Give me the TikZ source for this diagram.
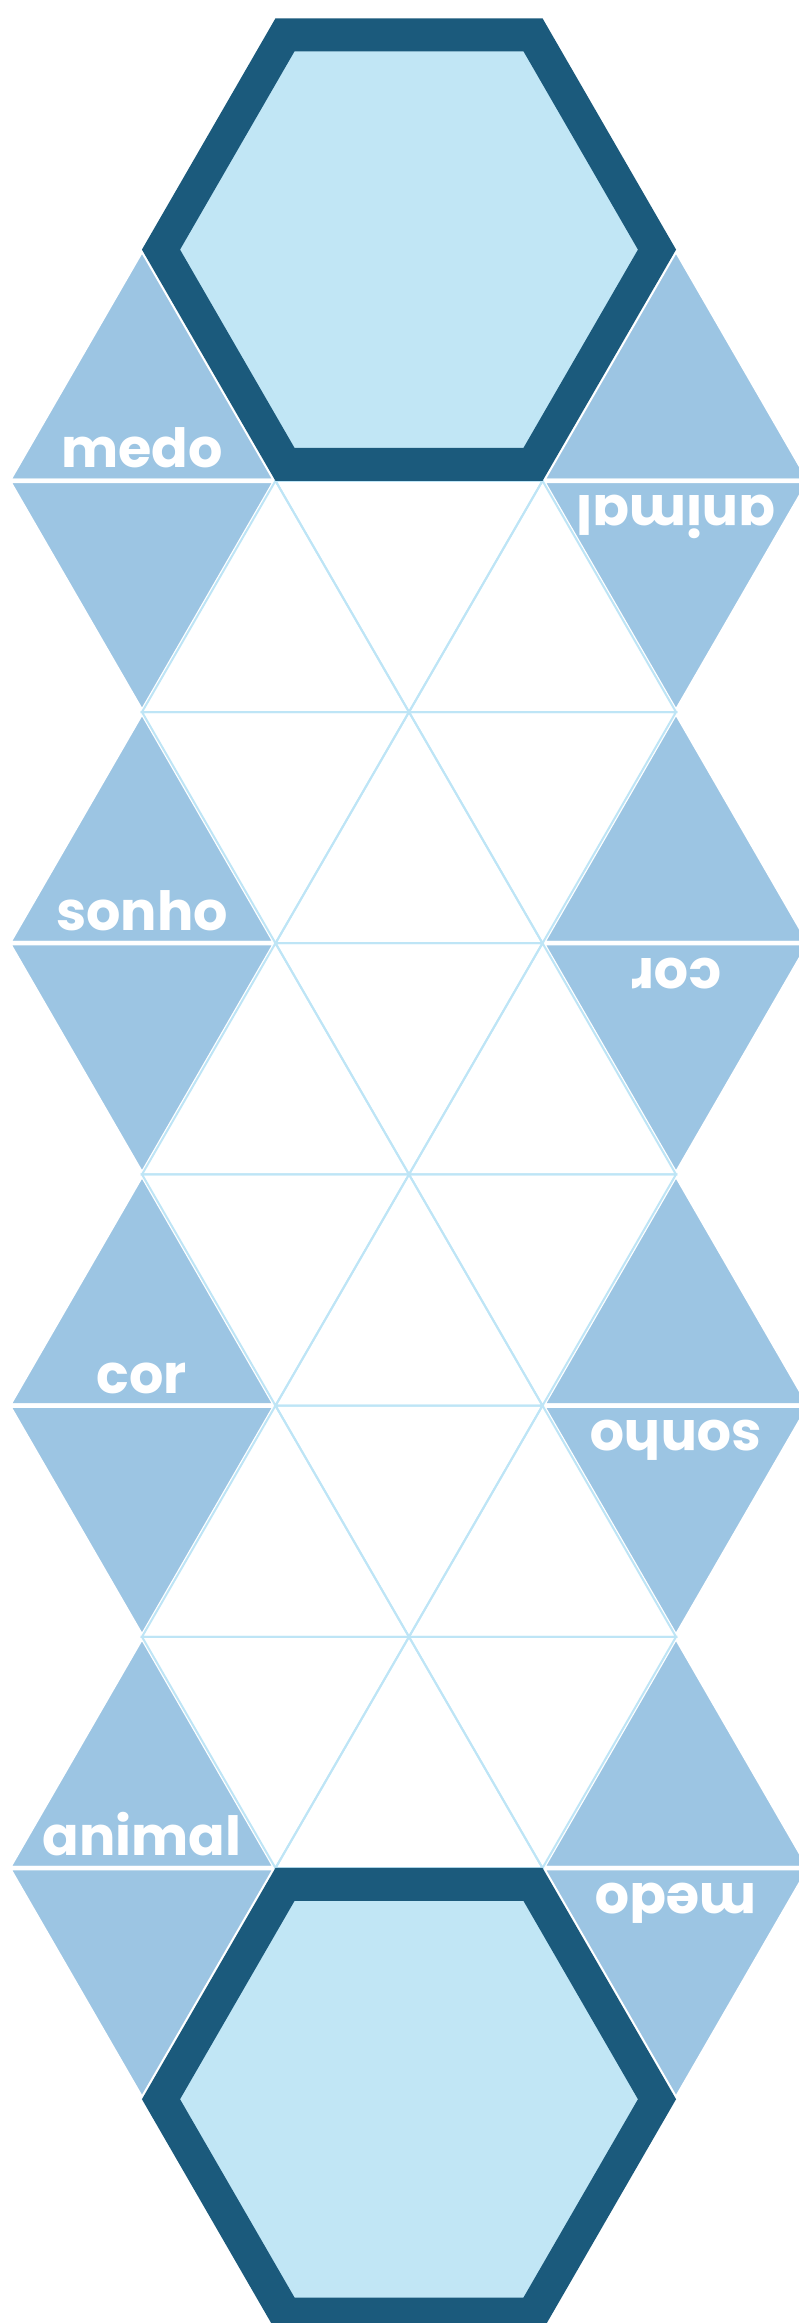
\documentclass[tikz,border=0pt]{standalone}
\usepackage{fontspec}
\setsansfont{Poppins}
\usetikzlibrary{calc}

\definecolor{frameblue}{HTML}{1B5A7C}
\definecolor{hexfill}{HTML}{C1E6F5}
\definecolor{tileblue}{HTML}{9CC5E3}
\definecolor{gridblue}{HTML}{BEE5F6}

\begin{document}
\begin{tikzpicture}[
    x=1pt, y=-1pt,
    tile/.style={fill=tileblue, draw=white, line width=4.5pt, line join=miter},
    cell/.style={draw=gridblue, line width=2pt, line join=miter},
    hexagon/.style={fill=hexfill, draw=frameblue, line width=33pt, line join=miter},
    word/.style={text=white, inner sep=0pt, anchor=base, font=\sffamily\bfseries\fontsize{54}{54}\selectfont},
    flipped/.style={word, rotate=180}
]
\useasboundingbox (0,0) rectangle (799,2323);

% 1. Side tiles (left and right columns)
\foreach \k in {-1,...,6} {
    \foreach \c in {1,5} {
        \pgfmathsetmacro\xl{8.5+133.5*(\c-1)}
        \pgfmathsetmacro\xm{8.5+133.5*\c}
        \pgfmathsetmacro\xr{8.5+133.5*(\c+1)}
        \pgfmathsetmacro\yt{480.8+231.2*\k}
        \pgfmathsetmacro\yb{\yt+231.2}
        \pgfmathtruncatemacro\up{mod(\k+\c+2,2)==0}
        \pgfmathsetmacro\ya{\up ? \yt : \yb}
        \pgfmathsetmacro\ys{\up ? \yb : \yt}
        \draw[tile] (\xm,\ya) -- (\xr,\ys) -- (\xl,\ys) -- cycle;
    }
}

% 2. Triangle grid (middle strip)
\foreach \k in {0,...,5} {
    \foreach \c in {2,3,4} {
        \pgfmathsetmacro\xl{8.5+133.5*(\c-1)}
        \pgfmathsetmacro\xm{8.5+133.5*\c}
        \pgfmathsetmacro\xr{8.5+133.5*(\c+1)}
        \pgfmathsetmacro\yt{480.8+231.2*\k}
        \pgfmathsetmacro\yb{\yt+231.2}
        \pgfmathtruncatemacro\up{mod(\k+\c+2,2)==0}
        \pgfmathsetmacro\ya{\up ? \yt : \yb}
        \pgfmathsetmacro\ys{\up ? \yb : \yt}
        \draw[cell] (\xm,\ya) -- (\xr,\ys) -- (\xl,\ys) -- cycle;
    }
}

% 3. Hexagons (top and bottom)
\coordinate (hexTop) at (409,249.6);
\coordinate (hexBottom) at (409,2099.2);
\draw[hexagon] (hexTop) +(0:248) -- +(60:248) -- +(120:248) -- +(180:248) -- +(240:248) -- +(300:248) -- cycle;
\draw[hexagon] (hexBottom) +(0:248) -- +(60:248) -- +(120:248) -- +(180:248) -- +(240:248) -- +(300:248) -- cycle;

% 4. Words, left column
\node[word] (medoL) at (142,467.8) {medo};
\node[word] (sonhoL) at (142,930.2) {sonho};
\node[word] (corL) at (142,1393.6) {cor};
\node[word] (animalL) at (142,1855) {animal};

% 5. Words, right column (upside down)
\node[flipped] (animalR) at (676,495.8) {animal};
\node[flipped] (corR) at (676,958.2) {cor};
\node[flipped] (sonhoR) at (676,1420.6) {sonho};
\node[flipped] (medoR) at (676,1883) {medo};

\end{tikzpicture}
\end{document}
